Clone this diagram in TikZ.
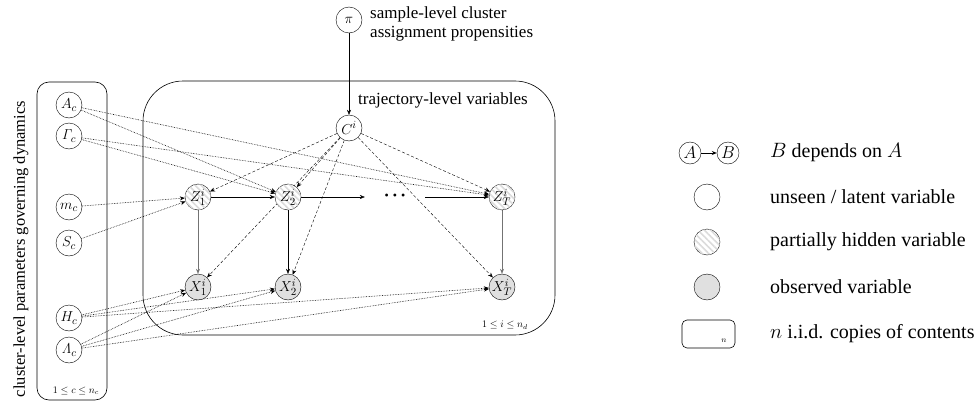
\documentclass[tikz,border=0pt]{standalone}
\usepackage[no-math]{fontspec}
\setmainfont{Liberation Serif}
\usetikzlibrary{arrows.meta,positioning,patterns.meta,backgrounds}

\tikzset{
  var/.style={circle,draw,minimum size=26pt,inner sep=0pt,font=\fontsize{15.5}{15.5}\selectfont},
  latent/.style={var,fill=white},
  partial/.style={var,fill=white,postaction={pattern={Lines[angle=-45,distance=4.5pt,line width=1.6pt]},pattern color=black!14}},
  obs/.style={var,fill=black!12},
  plate/.style={draw,semithick},
  dep/.style={-{Stealth[length=5pt,width=4pt]}},
  cdep/.style={dep,densely dashed},
  pdep/.style={dep,densely dotted,line width=0.6pt},
  txt/.style={font=\fontsize{17}{19}\selectfont,inner sep=0pt},
  legtxt/.style={font=\fontsize{20}{24}\selectfont,inner sep=0pt,anchor=west},
  idx/.style={font=\fontsize{10}{10}\selectfont,inner sep=0pt},
}

\begin{document}
\begin{tikzpicture}[x=1pt,y=-1pt]
    \useasboundingbox (0,0) rectangle (979,404);

    % top-level node
    \node[latent] (pi) at (349,20) {$\pi$};
    \node[txt,anchor=west,align=left] (pilab) at (370,24) {sample-level cluster\\assignment propensities};

    % trajectory plate
    \draw[plate,rounded corners=40pt] (143,81) rectangle (555,335);
    \node[txt,anchor=west] (trajlab) at (358,100) {trajectory-level variables};
    \node[idx] (ilab) at (505,325) {$1\leq i\leq n_d$};

    \node[latent] (C) at (349,128) {$C^i$};
    \node[partial] (Z1) at (198,197) {$Z^i_1$};
    \node[partial] (Z2) at (288,197) {$Z^i_2$};
    \node[inner sep=0pt,minimum width=60pt,minimum height=10pt,font=\fontsize{12}{12}\selectfont] (dots) at (395,197) {\textbullet\hspace{4pt}\textbullet\hspace{4pt}\textbullet};
    \node[partial] (ZT) at (502,197) {$Z^i_T$};
    \node[obs] (X1) at (198,287) {$X^i_1$};
    \node[obs] (X2) at (288,287) {$X^i_2$};
    \node[obs] (XT) at (502,287) {$X^i_T$};

    % cluster plate
    \draw[plate,rounded corners=12pt] (37,82) rectangle (107,400);
    \node[font=\fontsize{16.5}{18}\selectfont,inner sep=0pt,rotate=90] (clab) at (21,249) {cluster-level parameters governing dynamics};
    \node[idx] (clab2) at (76,391) {$1\leq c\leq n_c$};

    \node[latent] (A) at (69,105) {$A_c$};
    \node[latent] (G) at (69,136) {$\mathit{\Gamma}_c$};
    \node[latent] (m) at (69,207) {$m_c$};
    \node[latent] (S) at (69,243) {$S_c$};
    \node[latent] (H) at (69,318) {$H_c$};
    \node[latent] (L) at (69,350) {$\mathit{\Lambda}_c$};

    \begin{scope}[on background layer]
      \draw[dep] (pi) -- (C);
      % assignment to every state and emission
      \foreach \t in {Z1,Z2,ZT,X1,X2,XT}
        \draw[cdep] (C) -- (\t);
      % chain
      \draw[dep] (Z1) -- (Z2);
      \draw[dep] (Z2) -- (dots);
      \draw[dep] (dots) -- (ZT);
      \draw[dep,black!55,semithick] (Z1) -- (X1);
      \draw[dep] (Z2) -- (X2);
      \draw[dep,black!55,semithick] (ZT) -- (XT);
      % parameters
      \foreach \s in {m,S}
        \draw[pdep] (\s) -- (Z1);
      \foreach \s in {A,G}
        \foreach \t in {Z2,ZT}
          \draw[pdep] (\s) -- (\t);
      \foreach \s in {H,L}
        \foreach \t in {X1,X2,XT}
          \draw[pdep] (\s) -- (\t);
    \end{scope}

    % legend
    \node[var,minimum size=22pt,font=\fontsize{16}{16}\selectfont] (la) at (690,153) {$A$};
    \node[var,minimum size=22pt,font=\fontsize{16}{16}\selectfont] (lb) at (728,153) {$B$};
    \draw[dep,thick] (la) -- (lb);
    \node[legtxt] (t1) at (770,153) {$B$ depends on $A$};

    \node[latent] (l1) at (707,197) {};
    \node[legtxt] (t2) at (770,197) {unseen / latent variable};
    \node[partial] (l2) at (707,242) {};
    \node[legtxt] (t3) at (770,242) {partially hidden variable};
    \node[obs] (l3) at (707,287) {};
    \node[legtxt] (t4) at (770,287) {observed variable};
    \draw[plate,rounded corners=5pt] (682,320) rectangle (735,348);
    \node[font=\fontsize{8}{8}\selectfont,inner sep=0pt] (ln) at (724,341) {$n$};
    \node[legtxt] (t5) at (770,334) {$n$ i.i.d. copies of contents};
\end{tikzpicture}
\end{document}
